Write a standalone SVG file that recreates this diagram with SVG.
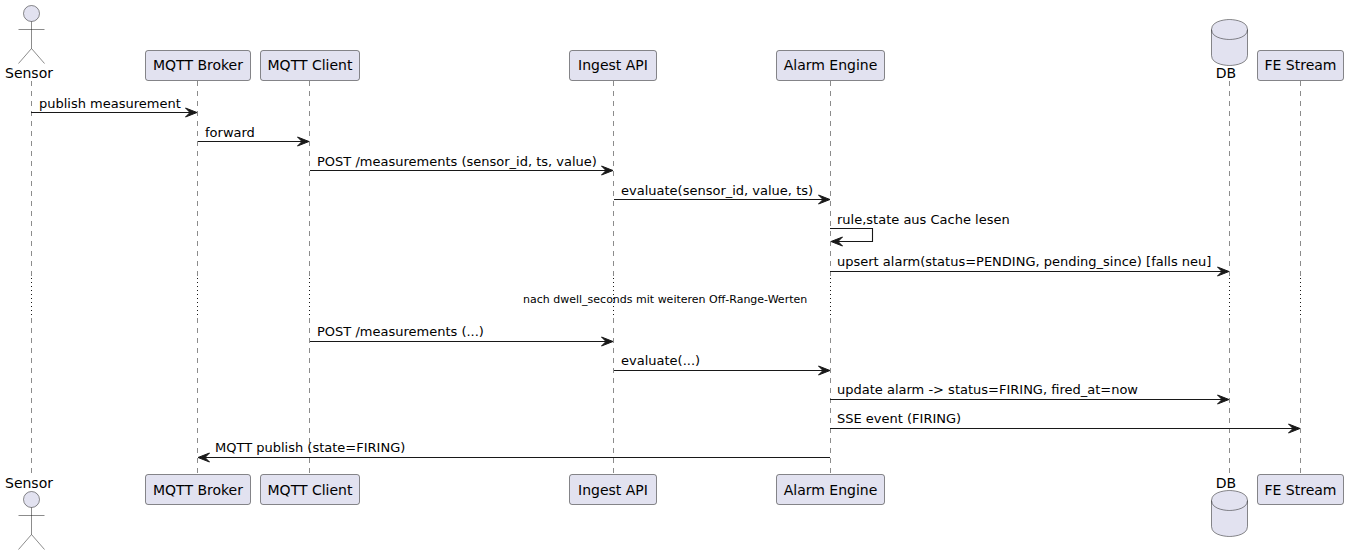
<svg xmlns="http://www.w3.org/2000/svg" width="1348" height="555" viewBox="0 0 1348 555">
<style>
text{font-family:"DejaVu Sans",sans-serif;font-size:14px;fill:#000}
.box{fill:#E2E2F0;stroke:#181818;stroke-width:.5}
.actor{fill:#E2E2F0;stroke:#181818;stroke-width:.5}
.life{stroke:#181818;stroke-width:.5;stroke-dasharray:5 5;fill:none}
.delay{stroke:#181818;stroke-width:1;stroke-dasharray:1 3;fill:none}
.msg{stroke:#181818;stroke-width:1.1;fill:none}
.head{fill:#181818;stroke:#181818;stroke-width:1}
.c{text-anchor:middle}
.note{font-size:11px}
#labels text.m{font-size:13px}
</style>
<defs>
<path id="r" class="head" d="M0,0 L-11.5,-4.5 L-7,0 L-11.5,4.5 Z"/>
<path id="l" class="head" d="M0,0 L11.5,-4.5 L7,0 L11.5,4.5 Z"/>
</defs>
<g id="lifelines">
<path class="life" d="M31.5,81V277M31.5,318V475M197.5,81V277M197.5,318V475M309.5,81V277M309.5,318V475M613.5,81V277M613.5,318V475M830.5,81V277M830.5,318V475M1229.5,81V277M1229.5,318V475M1300.5,81V277M1300.5,318V475"/>
<path class="delay" d="M31.5,278V315M197.5,278V315M309.5,278V315M613.5,278V315M830.5,278V315M1229.5,278V315M1300.5,278V315"/>
</g>
<g id="node-sensor-top">
<circle class="actor" cx="31.5" cy="13.5" r="8"/>
<path class="actor" d="M31.5,21.5V48.5M18.5,29.5H44.5M31.5,48.5L18.5,63.5M31.5,48.5L44.5,63.5" fill="none"/>
<text class="c" x="29" y="78">Sensor</text>
</g>
<g id="node-broker-top"><rect class="box" x="145.5" y="50.5" width="105" height="30" rx="2.5"/><text class="c" x="198" y="70">MQTT Broker</text></g>
<g id="node-client-top"><rect class="box" x="260.5" y="50.5" width="99" height="30" rx="2.5"/><text class="c" x="310" y="70">MQTT Client</text></g>
<g id="node-ingest-top"><rect class="box" x="569.5" y="50.5" width="87" height="30" rx="2.5"/><text class="c" x="613" y="70">Ingest API</text></g>
<g id="node-engine-top"><rect class="box" x="776.5" y="50.5" width="108" height="30" rx="2.5"/><text class="c" x="830.5" y="70">Alarm Engine</text></g>
<g id="node-db-top">
<path class="box" d="M1211.5,29.5C1211.5,19.5 1229.5,19.5 1229.5,19.5C1229.5,19.5 1247.5,19.5 1247.5,29.5V55.5C1247.5,65.5 1229.5,65.5 1229.5,65.5C1229.5,65.5 1211.5,65.5 1211.5,55.5Z"/>
<path class="box" style="fill:none" d="M1211.5,29.5C1211.5,39.5 1229.5,39.5 1229.5,39.5C1229.5,39.5 1247.5,39.5 1247.5,29.5"/>
<text class="c" x="1226" y="78">DB</text>
</g>
<g id="node-fe-top"><rect class="box" x="1257.5" y="50.5" width="86" height="30" rx="2.5"/><text class="c" x="1300.5" y="70">FE Stream</text></g>
<g id="node-sensor-bottom">
<text class="c" x="29" y="488">Sensor</text>
<circle class="actor" cx="31.5" cy="499.5" r="8"/>
<path class="actor" d="M31.5,507.5V534.5M18.5,515.5H44.5M31.5,534.5L18.5,549.5M31.5,534.5L44.5,549.5" fill="none"/>
</g>
<g id="node-broker-bottom"><rect class="box" x="145.5" y="474.5" width="105" height="30" rx="2.5"/><text class="c" x="198" y="495">MQTT Broker</text></g>
<g id="node-client-bottom"><rect class="box" x="260.5" y="474.5" width="99" height="30" rx="2.5"/><text class="c" x="310" y="495">MQTT Client</text></g>
<g id="node-ingest-bottom"><rect class="box" x="569.5" y="474.5" width="87" height="30" rx="2.5"/><text class="c" x="613" y="495">Ingest API</text></g>
<g id="node-engine-bottom"><rect class="box" x="776.5" y="474.5" width="108" height="30" rx="2.5"/><text class="c" x="830.5" y="495">Alarm Engine</text></g>
<g id="node-db-bottom">
<text class="c" x="1226" y="488">DB</text>
<path class="box" d="M1211.5,500.5C1211.5,490.5 1229.5,490.5 1229.5,490.5C1229.5,490.5 1247.5,490.5 1247.5,500.5V526.5C1247.5,536.5 1229.5,536.5 1229.5,536.5C1229.5,536.5 1211.5,536.5 1211.5,526.5Z"/>
<path class="box" style="fill:none" d="M1211.5,500.5C1211.5,510.5 1229.5,510.5 1229.5,510.5C1229.5,510.5 1247.5,510.5 1247.5,500.5"/>
</g>
<g id="node-fe-bottom"><rect class="box" x="1257.5" y="474.5" width="86" height="30" rx="2.5"/><text class="c" x="1300.5" y="495">FE Stream</text></g>
<g id="connectors">
<path class="msg" d="M31,112.5H190"/><use href="#r" x="197" y="112.5"/>
<path class="msg" d="M198,141.5H302"/><use href="#r" x="309" y="141.5"/>
<path class="msg" d="M310,170.5H606"/><use href="#r" x="613" y="170.5"/>
<path class="msg" d="M614,199.5H823"/><use href="#r" x="830" y="199.5"/>
<path class="msg" d="M830,228.5H872.5V241.5H838"/><use href="#l" x="831" y="241.5"/>
<path class="msg" d="M830,271.5H1222"/><use href="#r" x="1229" y="271.5"/>
<path class="msg" d="M310,341.5H606"/><use href="#r" x="613" y="341.5"/>
<path class="msg" d="M614,370.5H823"/><use href="#r" x="830" y="370.5"/>
<path class="msg" d="M830,399.5H1222"/><use href="#r" x="1229" y="399.5"/>
<path class="msg" d="M830,428.5H1293"/><use href="#r" x="1300" y="428.5"/>
<path class="msg" d="M830,457.5H205"/><use href="#l" x="198" y="457.5"/>
</g>
<g id="labels">
<text class="m" x="39" y="108">publish measurement</text>
<text class="m" x="205" y="137">forward</text>
<text class="m" x="317" y="166">POST /measurements (sensor_id, ts, value)</text>
<text class="m" x="621" y="195">evaluate(sensor_id, value, ts)</text>
<text class="m" x="837" y="224">rule,state aus Cache lesen</text>
<text class="m" x="837" y="266">upsert alarm(status=PENDING, pending_since) [falls neu]</text>
<text class="note" x="523" y="303">nach dwell_seconds mit weiteren Off-Range-Werten</text>
<text class="m" x="317" y="336">POST /measurements (...)</text>
<text class="m" x="621" y="365">evaluate(...)</text>
<text class="m" x="837" y="394">update alarm -&gt; status=FIRING, fired_at=now</text>
<text class="m" x="837" y="423">SSE event (FIRING)</text>
<text class="m" x="215" y="452">MQTT publish (state=FIRING)</text>
</g>
</svg>
